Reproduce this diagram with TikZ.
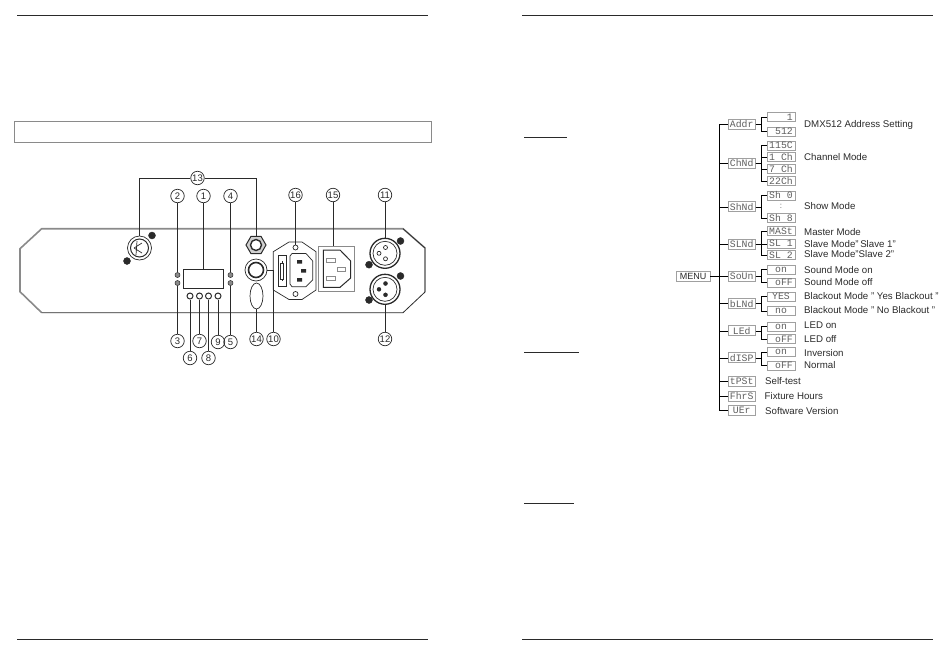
\documentclass[tikz,border=0pt]{standalone}
\usepackage{fontspec}
\setmainfont{Liberation Sans}
\newfontfamily\lcdfont{Liberation Mono}
\usetikzlibrary{shapes.geometric,calc}
\definecolor{ink}{HTML}{2A2A2A}
\definecolor{soft}{HTML}{8A8A8A}
\definecolor{lcdc}{HTML}{5E5E5E}
\definecolor{boxc}{HTML}{A0A0A0}
\tikzset{
  callout/.style={circle,draw=ink,line width=0.7pt,minimum size=13.5pt,inner sep=0pt,text=ink,font=\fontsize{9.5}{9.5}\selectfont},
  lead/.style={draw=ink,line width=0.7pt},
  part/.style={draw=ink,line width=0.7pt},
  dot/.style={circle,fill=ink,draw=ink,inner sep=0pt},
  lampdot/.style={circle,fill=soft,draw=ink,line width=0.5pt,minimum size=5pt,inner sep=0pt},
  keyb/.style={circle,draw=ink,line width=1pt,fill=white,minimum size=6pt,inner sep=0pt},
  lcdone/.style={draw=boxc,line width=0.6pt,minimum width=27pt,minimum height=10pt,inner sep=0pt,text=lcdc,font=\lcdfont\fontsize{9.8}{9.8}\selectfont},
  lcdtwo/.style={draw=boxc,line width=0.6pt,minimum width=28pt,minimum height=9pt,inner sep=0pt,text=lcdc,font=\lcdfont\fontsize{9.8}{9.8}\selectfont},
  caption/.style={anchor=west,inner sep=0pt,text=ink,font=\fontsize{9.7}{10}\selectfont},
  menuline/.style={draw=soft,line width=0.7pt},
  trunk/.style={menuline,to path={(\tikztostart.east) -- ++(8.7,0) |- (\tikztotarget.west)}},
  stub/.style={menuline,to path={(\tikztostart.east) -- ++(6,0) |- (\tikztotarget.west)}},
  rulel/.style={draw=ink,line width=0.8pt},
}
\begin{document}
\begin{tikzpicture}[x=1pt,y=-1pt]
\useasboundingbox (0,0) rectangle (950,654);
% page rules
\draw[rulel] (17,15) -- (428,15);
\draw[rulel] (522,15) -- (933,15);
\draw[rulel] (17,639) -- (428,639);
\draw[rulel] (522,639) -- (933,639);
\draw[draw=soft,line width=0.7pt] (14,121) rectangle (431,142);
\draw[rulel] (524,137) -- (567,137);
\draw[rulel] (524,352) -- (579,352);
\draw[rulel] (524,503) -- (574,503);
% panel
\draw[draw=soft,line width=1.6pt] (41.7,312.7) -- (20,291.7) -- (20,248.7) -- (41.7,228.7) -- (403,228.7) -- (425,248) -- (425,292);
\draw[draw=ink,line width=0.7pt] (403,228.7) -- (425,248);
\draw[draw=ink,line width=0.8pt] (41.7,312.7) -- (403,312.7) -- (425,292);
% multi-pin connector
\node[circle,part,minimum size=24pt,inner sep=0pt] (conn) at (139.5,248) {};
\draw[part,line width=1pt] (conn.center) circle (9);
\draw[part] (134,248) -- (142,243) (134,248) -- (142,253) (137,241) -- (136,255);
\node[dot,minimum size=7pt] (sa) at (152,235.5) {};
\node[dot,minimum size=7pt] (sb) at (127,261) {};
% display, lamps, keys
\node[part,minimum width=39.5pt,minimum height=19.5pt,inner sep=0pt] (display) at (203.5,279) {};
\node[lampdot] (la) at (177.5,275) {};
\node[lampdot] (lb) at (177.5,283) {};
\node[lampdot] (lc) at (230.5,275) {};
\node[lampdot] (ld) at (230.5,283) {};
\node[keyb] (ka) at (190,296) {};
\node[keyb] (kb) at (199.5,296) {};
\node[keyb] (kc) at (208.5,296) {};
\node[keyb] (kd) at (218,296) {};
% jack and switch
\node[regular polygon,regular polygon sides=6,part,line width=1pt,fill=soft!40,minimum size=20pt,inner sep=0pt] (jack) at (256,245) {};
\draw[part,line width=1.4pt,fill=white] (jack.center) circle (5.5);
\node[circle,part,minimum size=22pt,inner sep=0pt] (sw) at (256,270) {};
\draw[part,line width=1.6pt] (sw.center) circle (7.5);
\node[ellipse,part,minimum width=13pt,minimum height=26pt,inner sep=0pt] (clamp) at (256.5,296) {};
% fuse inlet
\draw[part,fill=white] (289,242) -- (302,242) -- (316,251.7) -- (316,290) -- (302,299.5) -- (289,299.5) -- (273.3,290) -- (273.3,251.7) -- cycle;
\node[circle,part,minimum size=5pt,inner sep=0pt] (hole) at (295.5,247.5) {};
\node[circle,part,minimum size=5pt,inner sep=0pt] (holeb) at (295.5,294) {};
\node[part,minimum width=8.5pt,minimum height=31pt,inner sep=0pt] (fuse) at (282.5,271) {};
\draw[part,line width=1pt] (282,261) -- (282,281);
\draw[part,fill=white] (280.5,263) rectangle (283.5,279);
\draw[part] (292,253.5) -- (306,253.5) -- (312.7,261) -- (312.7,280) -- (306,286.7) -- (292,286.7) -- (290,284) -- (290,256) -- cycle;
\fill[ink] (297,260) rectangle (302,263.5) (301,269) rectangle (306,272.5) (297,278) rectangle (302,281.5);
% plain inlet
\node[draw=soft,line width=0.7pt,minimum width=36pt,minimum height=45.7pt,inner sep=0pt] (plug) at (336.3,268.8) {};
\draw[draw=ink,line width=1pt] (323.3,250) -- (340,250) -- (350.7,261) -- (350.7,278) -- (340,287.3) -- (323.3,287.3) -- cycle;
\draw[draw=soft,line width=0.6pt] (326.5,258) rectangle (335,262.5) (326.5,276) rectangle (335,280) (337.5,267.5) rectangle (345,271);
% XLR
\node[circle,part,line width=1.3pt,minimum size=30pt,inner sep=0pt] (xa) at (385,253.3) {};
\draw[part] (xa.center) circle (12);
\node[circle,part,minimum size=4pt,inner sep=0pt] at (385.5,247.5) {};
\node[circle,part,minimum size=4pt,inner sep=0pt] at (379,253.3) {};
\node[circle,part,minimum size=4pt,inner sep=0pt] at (385.5,258.8) {};
\node[dot,minimum size=7pt] (xas) at (400.5,241) {};
\node[dot,minimum size=7pt] (xat) at (369,264.7) {};
\node[circle,part,line width=1.3pt,minimum size=30pt,inner sep=0pt] (xb) at (385,289.3) {};
\draw[part] (xb.center) circle (12);
\node[dot,minimum size=4pt] at (385.5,283.5) {};
\node[dot,minimum size=4pt] at (379,289.3) {};
\node[dot,minimum size=4pt] at (385.5,294.8) {};
\node[dot,minimum size=7pt] (xbs) at (400.5,276) {};
\node[dot,minimum size=7pt] (xbt) at (369,300) {};
% callouts
\node[callout] (n13) at (197.5,178) {13};
\node[callout] (n2) at (177.5,196) {2};
\node[callout] (n1) at (203.5,196) {1};
\node[callout] (n4) at (230.5,196) {4};
\node[callout] (n16) at (295.5,195) {16};
\node[callout] (n15) at (333,195) {15};
\node[callout] (n11) at (385,195) {11};
\node[callout] (n3) at (177.5,341) {3};
\node[callout] (n6) at (190,358) {6};
\node[callout] (n7) at (199.5,341) {7};
\node[callout] (n8) at (208.5,358) {8};
\node[callout] (n9) at (218,342) {9};
\node[callout] (n5) at (230.5,342) {5};
\node[callout] (n14) at (256.5,339) {14};
\node[callout] (n10) at (273.5,339) {10};
\node[callout] (n12) at (385,339) {12};
\draw[lead] (n13.west) -| (conn.north);
\draw[lead] (n13.east) -| (jack.north);
\draw[lead] (n2) -- (la);
\draw[lead] (n1) -- (display);
\draw[lead] (n4) -- (lc);
\draw[lead] (n3) -- (lb);
\draw[lead] (n5) -- (ld);
\draw[lead] (n6) -- (ka);
\draw[lead] (n7) -- (kb);
\draw[lead] (n8) -- (kc);
\draw[lead] (n9) -- (kd);
\draw[lead] (n14) -- (clamp);
\draw[lead] (n10.north) |- (sw.east);
\draw[lead] (n16) -- (hole);
\draw[lead] (n15.south) -- (plug.north -| n15);
\draw[lead] (n11) -- (xa);
\draw[lead] (n12) -- (xb);
% menu tree
\node[draw=boxc,line width=0.7pt,minimum width=34pt,minimum height=10pt,inner sep=0pt,text=ink,font=\fontsize{9}{9}\selectfont] (menu) at (693,276.5) {MENU};
\foreach \nm/\yy/\tx in {addr/124.3/Addr,chnd/162.8/ChNd,shnd/206.7/ShNd,slnd/244.3/SLNd,soun/276/SoUn,blnd/303.6/bLNd,led/330.7/LEd,disp/357.7/dISP,tpst/381.5/tPSt,fhrs/396/FhrS,ver/410.3/UEr}
  {\node[lcdone] (\nm) at (741.7,\yy) {\tx};
   \draw (menu) to[trunk] (\nm);}
\foreach \nm/\yy/\tx/\up in {aa/117.2/{\ \ \ 1}/addr,ab/131.6/{\ 512}/addr,
  ca/145.3/{115C}/chnd,cb/156.8/{1 Ch}/chnd,cc/168.8/{7 Ch}/chnd,cd/180.8/{22Ch}/chnd,
  sa2/195.3/{Sh 0}/shnd,sb2/217.7/{Sh 8}/shnd,
  ma/230.8/{MASt}/slnd,mb/243.7/{SL 1}/slnd,mc/255/{SL 2}/slnd,
  so/269.5/{on}/soun,sf/282.5/{\ oFF}/soun,
  by/296.5/{YES}/blnd,bn/310.8/{no}/blnd,
  lo/326.5/{on}/led,lf/339.2/{\ oFF}/led,
  da/352/{on}/disp,db/365.5/{\ oFF}/disp}
  {\node[lcdtwo] (\nm) at (781,\yy) {\tx};
   \draw (\up) to[stub] (\nm);}
\node[text=lcdc,inner sep=0pt,font=\fontsize{8}{8}\selectfont] (sdots) at (781,206.5) {:};
% captions
\node[caption] (t1) at (804,124.5) {DMX512 Address Setting};
\node[caption] (t2) at (804,157.5) {Channel Mode};
\node[caption] (t3) at (804,206) {Show Mode};
\node[caption] (t4) at (804,232) {Master Mode};
\node[caption] (t5) at (804,244.5) {Slave Mode"\,Slave 1"};
\node[caption] (t6) at (804,254.5) {Slave Mode"Slave 2"};
\node[caption] (t7) at (804,270) {Sound Mode on};
\node[caption] (t8) at (804,282.5) {Sound Mode off};
\node[caption] (t9) at (804,296.5) {Blackout Mode " Yes Blackout "};
\node[caption] (t10) at (804,310.5) {Blackout Mode " No Blackout "};
\node[caption] (t11) at (804,325.5) {LED on};
\node[caption] (t12) at (804,339) {LED off};
\node[caption] (t13) at (804,353) {Inversion};
\node[caption] (t14) at (804,365.5) {Normal};
\node[caption] (t15) at (765,381.5) {Self-test};
\node[caption] (t16) at (764.5,396) {Fixture Hours};
\node[caption] (t17) at (765,411) {Software Version};
\end{tikzpicture}
\end{document}
